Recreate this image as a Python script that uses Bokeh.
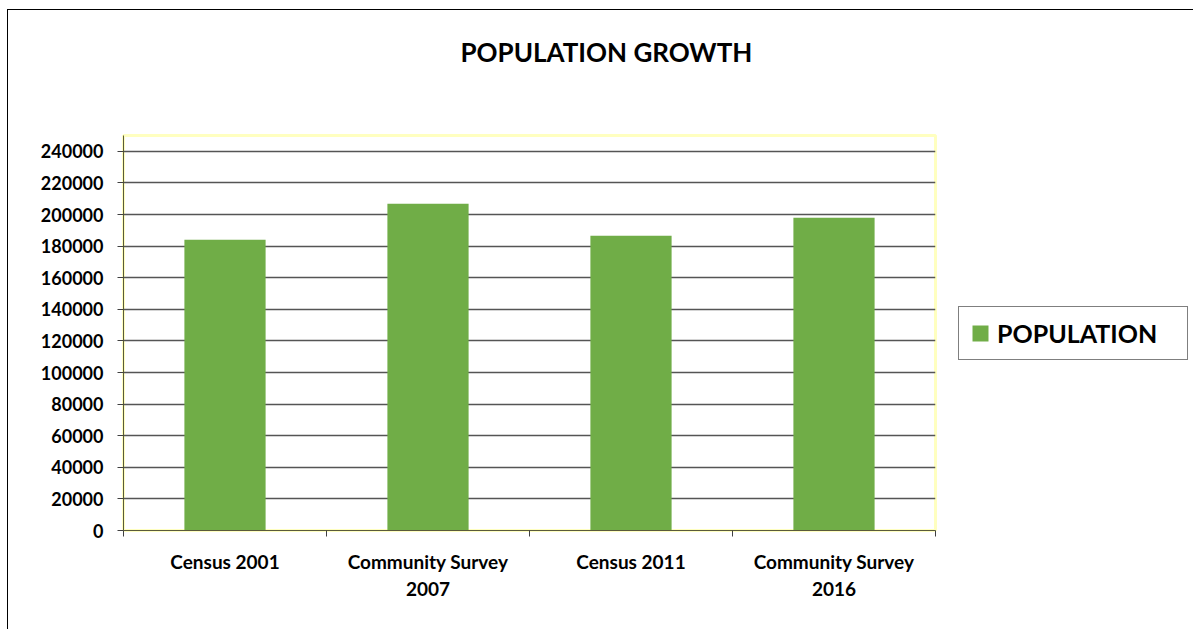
from bokeh.plotting import figure
from bokeh.models import Range1d, FixedTicker, Legend, LegendItem, Title, InlineStyleSheet
from bokeh.embed import file_html
from bokeh.resources import INLINE

categories = ["Census 2001", "Community Survey 2007", "Census 2011", "Community Survey 2016"]
category_labels = ["Census 2001", "Community Survey\n2007", "Census 2011", "Community Survey\n2016"]
population = [184000, 206800, 186500, 197900]
y_ticks = list(range(0, 240001, 20000))
title_text = "POPULATION GROWTH"
series_name = "POPULATION"

FONT = "Lato"
GREEN = "#70AD47"

x_centers = [i + 0.5 for i in range(len(categories))]
x_bounds = list(range(len(categories) + 1))

border_css = InlineStyleSheet(css="""
:host::after {
  content: "";
  position: absolute;
  left: 7px; top: 9px; right: 0px; bottom: 0px;
  border-left: 1.5px solid #000;
  border-top: 1.5px solid #000;
  pointer-events: none;
}
""")

p = figure(frame_width=812, frame_height=395, output_backend="svg", toolbar_location=None,
           x_range=Range1d(0, len(categories)), y_range=Range1d(0, 250000),
           min_border_left=123, min_border_right=258, min_border_top=135,
           min_border_bottom=99, stylesheets=[border_css])
p.background_fill_color = "white"
p.border_fill_color = "white"
p.outline_line_color = "#FFFFC0"
p.outline_line_width = 3

r = p.vbar(x=x_centers, top=population, width=0.4, fill_color=GREEN, line_color=None)

# spacer between frame and title (keeps the title high above the frame)
p.add_layout(Title(text=" ", text_font_size="2px", standoff=64), "above")
# title
p.title = Title(text=title_text, align="left", offset=337, standoff=0,
                text_font=FONT, text_font_style="bold", text_font_size="26px",
                text_color="black")

# x axis
p.xaxis.ticker = FixedTicker(ticks=x_centers, minor_ticks=x_bounds)
p.xaxis.major_label_overrides = {xc: lab for xc, lab in zip(x_centers, category_labels)}
p.xaxis.major_tick_out = 0
p.xaxis.major_tick_in = 0
p.xaxis.minor_tick_out = 6
p.xaxis.minor_tick_in = 0
p.xaxis.minor_tick_line_color = "#404040"
p.xaxis.axis_line_color = "#5a5a3c"
p.xaxis.major_label_text_font = FONT
p.xaxis.major_label_text_font_style = "bold"
p.xaxis.major_label_text_font_size = "19px"
p.xaxis.major_label_text_color = "black"
p.xaxis.major_label_standoff = 13
p.xgrid.visible = False

# y axis
p.yaxis.ticker = FixedTicker(ticks=y_ticks)
p.yaxis.major_tick_out = 6
p.yaxis.major_tick_in = 0
p.yaxis.minor_tick_line_color = None
p.yaxis.major_tick_line_color = "#404040"
p.yaxis.axis_line_color = "#5a5a3c"
p.yaxis.major_label_text_font = FONT
p.yaxis.major_label_text_font_style = "bold"
p.yaxis.major_label_text_font_size = "18px"
p.yaxis.major_label_text_color = "black"
p.yaxis.major_label_standoff = 14
p.yaxis.formatter.use_scientific = False
p.ygrid.grid_line_color = "#555555"
p.ygrid.grid_line_width = 1.5

legend = Legend(items=[LegendItem(label=series_name, renderers=[r])],
                location="left", margin=23, padding=11,
                glyph_width=20, glyph_height=20, label_standoff=7, label_width=179,
                label_text_font=FONT, label_text_font_style="bold",
                label_text_font_size="25px", label_text_color="black",
                border_line_color="black", border_line_width=1)
p.add_layout(legend, "right")

open("out.html", "w").write(file_html(p, INLINE))
